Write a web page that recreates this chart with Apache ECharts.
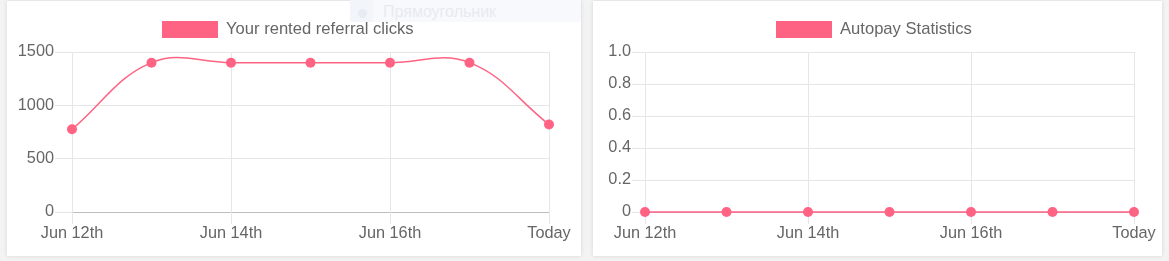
<!DOCTYPE html>
<html>
<head>
<meta charset="utf-8">
<script src="https://cdn.jsdelivr.net/npm/echarts@6/dist/echarts.min.js"></script>
<style>
  html, body { margin: 0; padding: 0; background: #f3f3f3; width: 1169px; height: 261px; overflow: hidden; font-family: "Liberation Sans", Arial, sans-serif; }
  .panel { position: absolute; background: #fff; box-shadow: 0 0 4px rgba(0,0,0,0.12); }
  #p1 { left: 7px; top: 1px; width: 574px; height: 255px; }
  #p2 { left: 593px; top: 1px; width: 569px; height: 255px; }
  #c1, #c2 { width: 100%; height: 100%; }
  #ghost { position: absolute; left: 350px; top: 0; width: 231px; height: 22px; background: #f7f9fc; z-index: 5; overflow: hidden; }
  #ghost .cell { position: absolute; left: 0; top: 0; width: 23px; height: 22px; background: #f2f5fa; }
  #ghost .dot { position: absolute; left: 8px; top: 9px; width: 9px; height: 9px; border-radius: 50%; background: #e8ebf2; }
  #ghost .txt { position: absolute; left: 33px; top: 3px; font-size: 16px; color: #e7eaf1; font-family: "Liberation Sans", Arial, sans-serif; }
</style>
</head>
<body>
<div class="panel" id="p1"><div id="c1"></div></div>
<div class="panel" id="p2"><div id="c2"></div></div>
<div id="ghost"><div class="cell"><div class="dot"></div></div><div class="txt">Прямоугольник</div></div>
<script>
const categories = ['Jun 12th', 'Jun 13th', 'Jun 14th', 'Jun 15th', 'Jun 16th', 'Jun 17th', 'Today'];
const referralClicks = [775, 1400, 1400, 1400, 1400, 1400, 820];
const autopayValues = [0, 0, 0, 0, 0, 0, 0];
const referralName = 'Your rented referral clicks';
const autopayName = 'Autopay Statistics';
const referralTicks = { min: 0, max: 1500, interval: 500 };
const autopayTicks = { min: 0, max: 1, interval: 0.2 };

const PINK = '#ff6384';
const GRID = '#e6e6e6';
const TEXT = '#666';
const FONT = '"Liberation Sans", Arial, sans-serif';
const TENSION = 0.4;

// Chart.js-style cardinal spline through points converted by the chart's own axes
function splineRenderer(values) {
  return function (params, api) {
    if (params.dataIndex !== 0) return null;
    const pts = values.map((v, i) => api.coord([i, v]));
    const n = pts.length;
    const cps = pts.map((p, i) => {
      const prev = pts[i - 1] || p, next = pts[i + 1] || p;
      const d01 = Math.hypot(p[0] - prev[0], p[1] - prev[1]);
      const d12 = Math.hypot(next[0] - p[0], next[1] - p[1]);
      let s01 = d01 / (d01 + d12), s12 = d12 / (d01 + d12);
      if (!isFinite(s01)) s01 = 0;
      if (!isFinite(s12)) s12 = 0;
      const fa = TENSION * s01, fb = TENSION * s12;
      return {
        prev: [p[0] - fa * (next[0] - prev[0]), p[1] - fa * (next[1] - prev[1])],
        next: [p[0] + fb * (next[0] - prev[0]), p[1] + fb * (next[1] - prev[1])]
      };
    });
    let d = 'M' + pts[0][0] + ' ' + pts[0][1];
    for (let i = 1; i < n; i++) {
      const a = cps[i - 1].next, b = cps[i].prev;
      d += ' C' + a[0] + ' ' + a[1] + ' ' + b[0] + ' ' + b[1] + ' ' + pts[i][0] + ' ' + pts[i][1];
    }
    return {
      type: 'path',
      shape: { pathData: d },
      style: { stroke: PINK, fill: null, lineWidth: 1.5 },
      silent: true
    };
  };
}

function makeOption(name, values, ticks, gridCfg, tickLen, legendLeft, yFmt) {
  return {
    animation: false,
    legend: {
      top: 15,
      left: legendLeft,
      icon: 'rect',
      itemWidth: 56,
      itemHeight: 17,
      itemGap: 10,
      textStyle: { color: TEXT, fontSize: 16.6, fontFamily: FONT, padding: [0, 0, 0, 3] },
      data: [{ name: name, icon: 'rect', itemStyle: { color: PINK } }]
    },
    grid: Object.assign({ containLabel: false }, gridCfg),
    xAxis: {
      type: 'category',
      data: categories,
      boundaryGap: false,
      axisLine: { show: true, lineStyle: { color: '#bdbdbd', width: 1 } },
      axisTick: { show: true, length: 12, interval: 1, lineStyle: { color: GRID } },
      axisLabel: { interval: 1, color: TEXT, fontSize: 16.3, fontFamily: FONT, margin: 14 },
      splitLine: { show: true, interval: 1, lineStyle: { color: GRID } }
    },
    yAxis: {
      type: 'value',
      min: ticks.min,
      max: ticks.max,
      interval: ticks.interval,
      axisLine: { show: false },
      axisTick: { show: true, length: tickLen, lineStyle: { color: GRID } },
      axisLabel: { color: TEXT, fontSize: 16.3, fontFamily: FONT, margin: tickLen + 1, formatter: yFmt },
      splitLine: { show: true, lineStyle: { color: GRID } }
    },
    series: [
      {
        name: name + ' curve',
        type: 'custom',
        data: [0],
        renderItem: splineRenderer(values),
        z: 4,
        silent: true
      },
      {
        name: name,
        type: 'line',
        data: values,
        symbol: 'circle',
        symbolSize: 10,
        lineStyle: { color: PINK, width: 0, opacity: 0 },
        itemStyle: { color: PINK },
        z: 5
      }
    ]
  };
}

const c1 = echarts.init(document.getElementById('c1'), null, { renderer: 'canvas' });
c1.setOption(makeOption(referralName, referralClicks, referralTicks,
  { left: 65, right: 32, top: 51, bottom: 44 }, 17, 150,
  v => String(v)));

const c2 = echarts.init(document.getElementById('c2'), null, { renderer: 'canvas' });
c2.setOption(makeOption(autopayName, autopayValues, autopayTicks,
  { left: 52, right: 28, top: 51, bottom: 44 }, 13, 178,
  v => (v === 0 ? '0' : v.toFixed(1))));
</script>
</body>
</html>
